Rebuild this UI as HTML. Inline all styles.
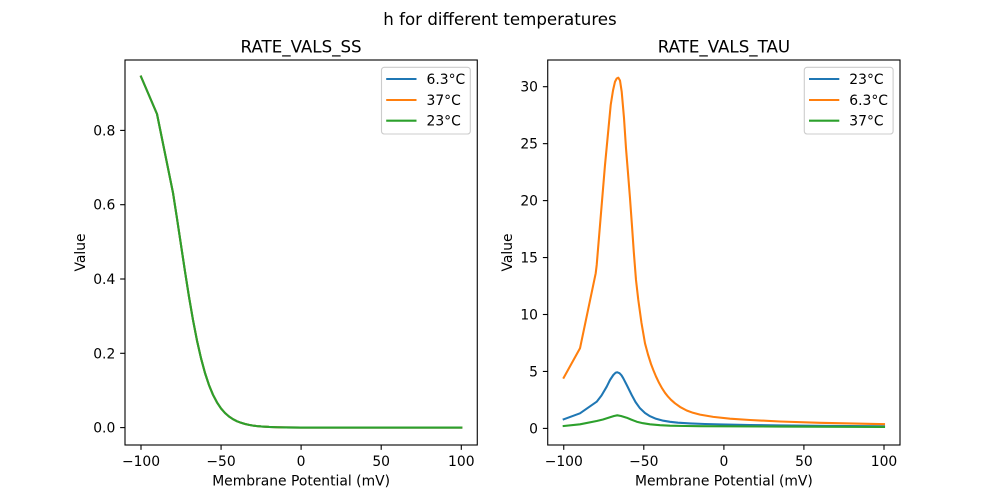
<!DOCTYPE html>
<html>
<head>
<meta charset="utf-8">
<style>
  html, body { margin: 0; padding: 0; background: #ffffff; }
  body { width: 1000px; height: 500px; overflow: hidden; }
  svg { display: block; }
  text { font-family: "DejaVu Sans", "Liberation Sans", sans-serif; fill: #000000; }
</style>
</head>
<body>
<svg width="1000" height="500" viewBox="0 0 1000 500" xmlns="http://www.w3.org/2000/svg">
  <rect x="0" y="0" width="1000" height="500" fill="#ffffff"/>

  <!-- Suptitle -->
  <text x="500" y="25" font-size="16.67" text-anchor="middle">h for different temperatures</text>

  <!-- ================= LEFT AXES ================= -->
  <text x="301.1" y="52.5" font-size="16.67" text-anchor="middle">RATE_VALS_SS</text>

  <g fill="none" stroke-width="2.08" stroke-linejoin="round" stroke-linecap="square">
    <polyline stroke="#1f77b4" points="141.0,76.6 157.0,114.0 173.0,192.8 177.0,218.5 181.0,245.0 185.0,271.5 189.0,296.8 193.0,320.0 197.0,340.6 201.0,358.2 205.0,373.0 209.0,385.1 213.0,394.8 217.0,402.4 221.0,408.4 225.0,413.0 229.0,416.5 233.0,419.2 237.1,421.3 241.1,422.8 245.1,424.0 249.1,424.9 253.1,425.6 257.1,426.1 261.1,426.45 269.1,426.97 277.1,427.25 285.1,427.4 301.1,427.55 461.3,427.6"/>
    <polyline stroke="#ff7f0e" points="141.0,76.6 157.0,114.0 173.0,192.8 177.0,218.5 181.0,245.0 185.0,271.5 189.0,296.8 193.0,320.0 197.0,340.6 201.0,358.2 205.0,373.0 209.0,385.1 213.0,394.8 217.0,402.4 221.0,408.4 225.0,413.0 229.0,416.5 233.0,419.2 237.1,421.3 241.1,422.8 245.1,424.0 249.1,424.9 253.1,425.6 257.1,426.1 261.1,426.45 269.1,426.97 277.1,427.25 285.1,427.4 301.1,427.55 461.3,427.6"/>
    <polyline stroke="#2ca02c" points="141.0,76.6 157.0,114.0 173.0,192.8 177.0,218.5 181.0,245.0 185.0,271.5 189.0,296.8 193.0,320.0 197.0,340.6 201.0,358.2 205.0,373.0 209.0,385.1 213.0,394.8 217.0,402.4 221.0,408.4 225.0,413.0 229.0,416.5 233.0,419.2 237.1,421.3 241.1,422.8 245.1,424.0 249.1,424.9 253.1,425.6 257.1,426.1 261.1,426.45 269.1,426.97 277.1,427.25 285.1,427.4 301.1,427.55 461.3,427.6"/>
  </g>

  <rect x="125" y="60" width="352.27" height="385" fill="none" stroke="#000000" stroke-width="1.1"/>

  <g stroke="#000000" stroke-width="1.1">
    <line x1="141.0" y1="445" x2="141.0" y2="449.86"/>
    <line x1="221.07" y1="445" x2="221.07" y2="449.86"/>
    <line x1="301.1" y1="445" x2="301.1" y2="449.86"/>
    <line x1="381.2" y1="445" x2="381.2" y2="449.86"/>
    <line x1="461.3" y1="445" x2="461.3" y2="449.86"/>
  </g>
  <g font-size="13.89" text-anchor="middle">
    <text x="141.0" y="466">−100</text>
    <text x="221.07" y="466">−50</text>
    <text x="301.1" y="466">0</text>
    <text x="381.2" y="466">50</text>
    <text x="461.3" y="466">100</text>
  </g>
  <text x="301.1" y="485.5" font-size="13.89" text-anchor="middle">Membrane Potential (mV)</text>

  <g stroke="#000000" stroke-width="1.1">
    <line x1="120.14" y1="427.6" x2="125" y2="427.6"/>
    <line x1="120.14" y1="353.3" x2="125" y2="353.3"/>
    <line x1="120.14" y1="279.0" x2="125" y2="279.0"/>
    <line x1="120.14" y1="204.7" x2="125" y2="204.7"/>
    <line x1="120.14" y1="130.4" x2="125" y2="130.4"/>
  </g>
  <g font-size="13.89" text-anchor="end">
    <text x="115.3" y="432.6">0.0</text>
    <text x="115.3" y="358.3">0.2</text>
    <text x="115.3" y="284.0">0.4</text>
    <text x="115.3" y="209.7">0.6</text>
    <text x="115.3" y="135.4">0.8</text>
  </g>
  <text transform="translate(85,252.5) rotate(-90)" font-size="13.89" text-anchor="middle">Value</text>

  <rect x="381.5" y="67.3" width="88.8" height="66.7" rx="2.8" ry="2.8" fill="#ffffff" fill-opacity="0.8" stroke="#cccccc" stroke-width="1.1"/>
  <g stroke-width="2.08">
    <line x1="386.2" y1="79" x2="416.5" y2="79" stroke="#1f77b4"/>
    <line x1="386.2" y1="100" x2="416.5" y2="100" stroke="#ff7f0e"/>
    <line x1="386.2" y1="120.7" x2="416.5" y2="120.7" stroke="#2ca02c"/>
  </g>
  <g font-size="13.89">
    <text x="426.5" y="84">6.3°C</text>
    <text x="426.5" y="105">37°C</text>
    <text x="426.5" y="125.7">23°C</text>
  </g>

  <!-- ================= RIGHT AXES ================= -->
  <text x="723.9" y="52.5" font-size="16.67" text-anchor="middle">RATE_VALS_TAU</text>

  <g fill="none" stroke-width="2.08" stroke-linejoin="round" stroke-linecap="square">
    <!-- 23°C blue -->
    <polyline stroke="#1f77b4" points="563.7,419.3 580.0,413.3 596.7,401.7 601.5,395.5 606.7,386.7 610.0,380.0 613.3,375.0 615.5,372.8 617.3,372.3 619.5,373.2 621.5,375.3 623.3,378.3 627.0,385.5 631.7,395.0 635.5,402.0 640.0,408.3 645.0,413.0 650.0,416.2 656.0,418.8 663.3,420.7 670.0,421.8 678.0,422.7 690.0,423.4 705.0,424.0 720.0,424.4 750.0,425.0 780.0,425.4 830.0,425.9 884.0,426.3"/>
    <!-- 6.3°C orange -->
    <polyline stroke="#ff7f0e" points="563.7,377.7 580.0,348.3 595.7,273.3 596.7,265.0 600.0,225.2 605.0,165.0 608.0,133.5 610.7,105.0 613.0,90.5 615.0,81.7 616.7,78.5 618.3,77.7 620.0,80.5 621.7,91.7 624.0,118.0 626.0,148.3 628.0,173.0 630.0,198.3 632.0,226.0 633.8,252.0 636.0,280.0 638.3,300.0 641.5,323.0 645.0,343.3 648.0,354.5 651.0,364.0 653.3,370.0 656.0,376.5 659.0,382.8 662.0,388.2 665.0,392.8 668.0,396.6 671.0,399.8 675.0,403.3 680.0,406.9 686.7,410.5 693.0,412.8 700.0,414.6 713.3,416.9 730.0,418.7 750.0,420.0 780.0,421.5 820.0,422.8 884.0,424.2"/>
    <!-- 37°C green -->
    <polyline stroke="#2ca02c" points="563.7,426.0 580.0,424.3 596.7,421.0 603.0,419.5 610.0,417.3 614.0,416.0 617.3,415.3 621.0,416.0 626.7,417.7 631.0,419.5 636.7,421.7 643.0,423.2 650.0,424.3 660.0,425.2 670.0,425.7 685.0,426.0 700.0,426.2 780.0,426.6 884.0,426.9"/>
  </g>

  <rect x="547.73" y="60" width="352.27" height="385" fill="none" stroke="#000000" stroke-width="1.1"/>

  <g stroke="#000000" stroke-width="1.1">
    <line x1="563.75" y1="445" x2="563.75" y2="449.86"/>
    <line x1="643.8" y1="445" x2="643.8" y2="449.86"/>
    <line x1="723.9" y1="445" x2="723.9" y2="449.86"/>
    <line x1="803.9" y1="445" x2="803.9" y2="449.86"/>
    <line x1="884.0" y1="445" x2="884.0" y2="449.86"/>
  </g>
  <g font-size="13.89" text-anchor="middle">
    <text x="563.75" y="466">−100</text>
    <text x="643.8" y="466">−50</text>
    <text x="723.9" y="466">0</text>
    <text x="803.9" y="466">50</text>
    <text x="884.0" y="466">100</text>
  </g>
  <text x="723.9" y="485.5" font-size="13.89" text-anchor="middle">Membrane Potential (mV)</text>

  <g stroke="#000000" stroke-width="1.1">
    <line x1="542.87" y1="428.4" x2="547.73" y2="428.4"/>
    <line x1="542.87" y1="371.45" x2="547.73" y2="371.45"/>
    <line x1="542.87" y1="314.5" x2="547.73" y2="314.5"/>
    <line x1="542.87" y1="257.55" x2="547.73" y2="257.55"/>
    <line x1="542.87" y1="200.6" x2="547.73" y2="200.6"/>
    <line x1="542.87" y1="143.65" x2="547.73" y2="143.65"/>
    <line x1="542.87" y1="86.7" x2="547.73" y2="86.7"/>
  </g>
  <g font-size="13.89" text-anchor="end">
    <text x="538" y="433.4">0</text>
    <text x="538" y="376.45">5</text>
    <text x="538" y="319.5">10</text>
    <text x="538" y="262.55">15</text>
    <text x="538" y="205.6">20</text>
    <text x="538" y="148.65">25</text>
    <text x="538" y="91.7">30</text>
  </g>
  <text transform="translate(512,252.5) rotate(-90)" font-size="13.89" text-anchor="middle">Value</text>

  <rect x="804.3" y="67.3" width="88.8" height="66.7" rx="2.8" ry="2.8" fill="#ffffff" fill-opacity="0.8" stroke="#cccccc" stroke-width="1.1"/>
  <g stroke-width="2.08">
    <line x1="809.0" y1="79" x2="839.3" y2="79" stroke="#1f77b4"/>
    <line x1="809.0" y1="100" x2="839.3" y2="100" stroke="#ff7f0e"/>
    <line x1="809.0" y1="120.7" x2="839.3" y2="120.7" stroke="#2ca02c"/>
  </g>
  <g font-size="13.89">
    <text x="849.3" y="84">23°C</text>
    <text x="849.3" y="105">6.3°C</text>
    <text x="849.3" y="125.7">37°C</text>
  </g>
</svg>
</body>
</html>
